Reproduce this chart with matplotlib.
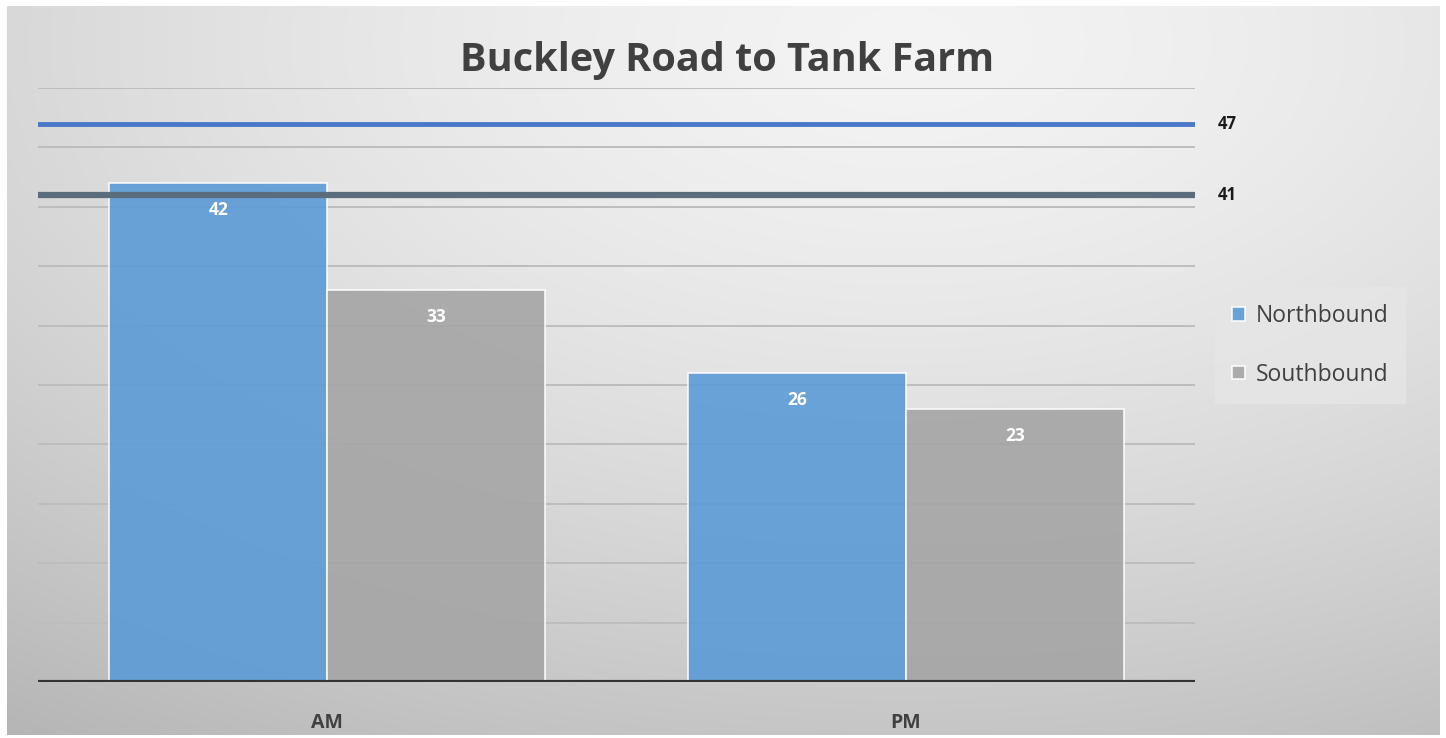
import numpy as np
import matplotlib.pyplot as plt

categories = ["AM", "PM"]
northbound = [42, 26]
southbound = [33, 23]
ref_values = [47, 41]
ref_colors = ["#4a78c8", "#5b6d7c"]
series_names = ["Northbound", "Southbound"]
series_colors = ["#5b9bd5", "#a5a5a5"]

W, H, DPI = 1446, 738, 100
fig = plt.figure(figsize=(W / DPI, H / DPI), dpi=DPI)
fig.patch.set_facecolor("white")

# background gradient area
bg = fig.add_axes([7 / W, 1 - 735 / H, (1440 - 7) / W, (735 - 6) / H], zorder=0)
yy, xx = np.mgrid[0:400, 0:800]
cx, cy = 500, 20
r = np.sqrt(((xx - cx) / 780) ** 2 + ((yy - cy) / 420) ** 2)
val = 0.955 - 0.21 * np.clip(r, 0, 1.2) ** 1.5
bg.imshow(np.dstack([val, val, val]), aspect="auto", extent=[0, 1, 0, 1], origin="upper")
bg.axis("off")

ax = fig.add_axes([38 / W, 1 - 682 / H, (1195 - 38) / W, (682 - 88) / H], zorder=1)
ax.patch.set_alpha(0)
x = np.arange(len(categories))
bw = 0.377
for i in range(0, 51, 5):
    if i > 0:
        ax.axhline(i, color="#bdbdbd", lw=1.4, zorder=1)
b1 = ax.bar(x - bw / 2, northbound, bw, color=series_colors[0], alpha=0.9,
            edgecolor="white", linewidth=1.2, zorder=2, label=series_names[0])
b2 = ax.bar(x + bw / 2, southbound, bw, color=series_colors[1], alpha=0.9,
            edgecolor="white", linewidth=1.2, zorder=2, label=series_names[1])
for bars, vals in ((b1, northbound), (b2, southbound)):
    for rect, v in zip(bars, vals):
        ax.text(rect.get_x() + rect.get_width() / 2, v - 2.3, str(v), ha="center",
                va="center", color="white", fontsize=12.5, fontweight="bold",
                family="Open Sans", zorder=4)
for v, c, lw in zip(ref_values, ref_colors, [3.5, 4.5]):
    ax.axhline(v, color=c, lw=lw, zorder=3)
    ax.text(1.54, v, str(v), ha="left", va="center", fontsize=12,
            fontweight="bold", color="#1a1a1a", family="Open Sans", clip_on=False)
ax.axhline(0, color="#333333", lw=3, zorder=3)
ax.set_xlim(-0.5, 1.5)
ax.set_ylim(0, 50)
ax.set_xticks(x)
ax.set_xticklabels(categories, fontsize=14, fontweight="bold", color="#404040",
                   family="Open Sans")
ax.tick_params(axis="x", length=0, pad=22)
ax.set_yticks([])
for s in ax.spines.values():
    s.set_visible(False)

fig.text(727 / W, 1 - 60 / H, "Buckley Road to Tank Farm", ha="center", va="center",
         fontsize=28.5, fontweight="bold", color="#404040", family="Open Sans")

leg = fig.legend(handles=[b1, b2], labels=series_names, loc="upper left",
                 bbox_to_anchor=(1215 / W, 1 - 287 / H), frameon=True,
                 handlelength=0.55, handleheight=0.55, handletextpad=0.5,
                 labelspacing=1.5, borderpad=0.75, borderaxespad=0,
                 prop={"family": "Open Sans", "size": 16.5})
leg.get_frame().set_facecolor("#e6e6e6")
leg.get_frame().set_edgecolor("none")
leg.get_frame().set_boxstyle("square", pad=0)
for t in leg.get_texts():
    t.set_color("#404040")

fig.savefig("out.png", dpi=DPI, facecolor="white")
